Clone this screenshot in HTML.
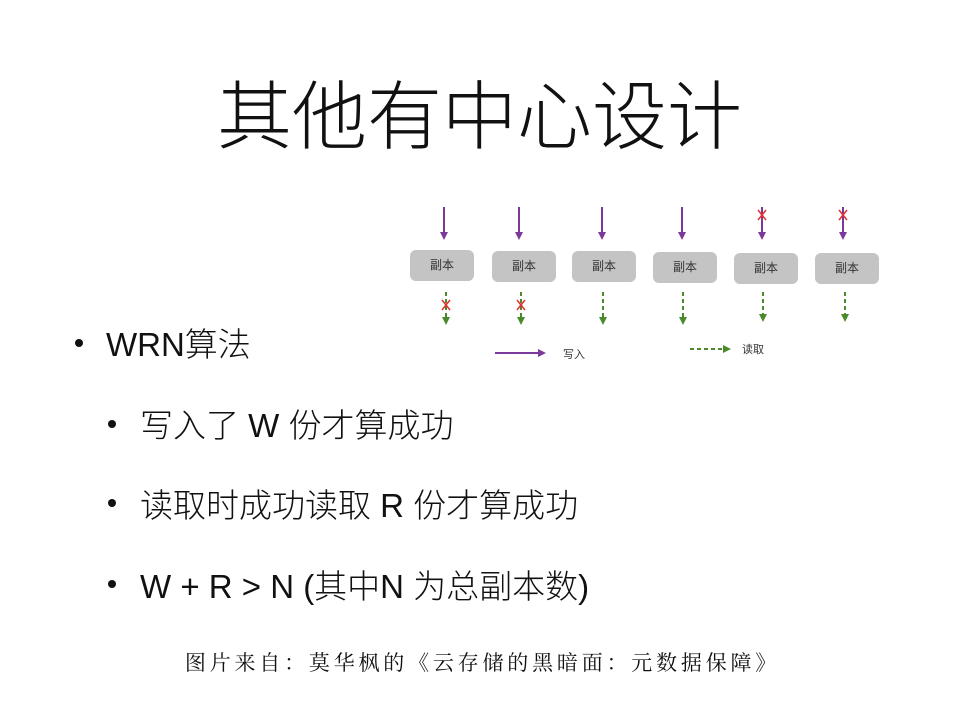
<!DOCTYPE html>
<html><head><meta charset="utf-8"><style>
body{margin:0;width:959px;height:720px;background:#fff;position:relative;overflow:hidden;font-family:"Liberation Sans","Noto Sans CJK SC",sans-serif;color:#111}
.t{position:absolute;white-space:nowrap}
.d{position:absolute;width:8px;height:8px;border-radius:50%;background:#111}
.box{position:absolute;width:64px;height:31px;background:#c4c4c4;border-radius:6px;font-size:12px;text-align:center;line-height:31px;color:#333}
.b{font-size:33px;font-weight:300}
</style></head><body>
<div class="t" style="left:0;width:959px;text-align:center;top:56px;font-size:75px;font-weight:300">其他有中心设计</div>

<svg style="position:absolute;left:0;top:0" width="959" height="720">
<defs>
<marker id="p" markerWidth="8" markerHeight="8" refX="4" refY="4" orient="auto" markerUnits="userSpaceOnUse"><path d="M0,0 L8,4 L0,8z" fill="#7b3a9a"/></marker>
<marker id="g" markerWidth="8" markerHeight="8" refX="4" refY="4" orient="auto" markerUnits="userSpaceOnUse"><path d="M0,0 L8,4 L0,8z" fill="#4a8a2a"/></marker>
</defs>
<g stroke="#7b3a9a" stroke-width="2" marker-end="url(#p)">
<line x1="444" y1="207" x2="444" y2="236"/><line x1="519" y1="207" x2="519" y2="236"/><line x1="602" y1="207" x2="602" y2="236"/><line x1="682" y1="207" x2="682" y2="236"/><line x1="762" y1="207" x2="762" y2="236"/><line x1="843" y1="207" x2="843" y2="236"/>
<line x1="495" y1="353" x2="542" y2="353"/>
</g>
<g stroke="#4a8a2a" stroke-width="2" stroke-dasharray="4,3" marker-end="url(#g)">
<line x1="446" y1="292" x2="446" y2="321"/><line x1="521" y1="292" x2="521" y2="321"/><line x1="603" y1="292" x2="603" y2="321"/><line x1="683" y1="292" x2="683" y2="321"/><line x1="763" y1="292" x2="763" y2="318"/><line x1="845" y1="292" x2="845" y2="318"/>
<line x1="690" y1="349" x2="727" y2="349"/>
</g>
<g stroke="#e03030" stroke-width="1.5">
<path d="M442,300 l8,10 M450,300 l-8,10"/><path d="M517,300 l8,10 M525,300 l-8,10"/>
<path d="M758,210 l8,10 M766,210 l-8,10"/><path d="M839,210 l8,10 M847,210 l-8,10"/>
</g>
</svg>
<div class="box" style="left:410px;top:250px">副本</div>
<div class="box" style="left:492px;top:251px">副本</div>
<div class="box" style="left:572px;top:251px">副本</div>
<div class="box" style="left:653px;top:252px">副本</div>
<div class="box" style="left:734px;top:253px">副本</div>
<div class="box" style="left:815px;top:253px">副本</div>
<div class="t" style="left:563px;top:346px;font-size:11px;color:#333">写入</div>
<div class="t" style="left:742px;top:341px;font-size:11px;color:#333">读取</div>

<div class="d" style="left:75px;top:339px"></div>
<div class="t b" style="left:106px;top:318px;">WRN算法</div>
<div class="d" style="left:108px;top:420px"></div>
<div class="t b" style="left:140px;top:399px;">写入了 W 份才算成功</div>
<div class="d" style="left:108px;top:499px"></div>
<div class="t b" style="left:140px;top:479px;">读取时成功读取 R 份才算成功</div>
<div class="d" style="left:108px;top:580px"></div>
<div class="t b" style="left:140px;top:560px;">W + R &gt; N (其中N 为总副本数)</div>
<div class="t" style="left:0;width:965px;text-align:center;top:647px;font-size:21px;font-family:'Liberation Serif','Noto Serif CJK SC',serif;letter-spacing:3.8px">图片来自：莫华枫的《云存储的黑暗面：元数据保障》</div>
</body></html>
